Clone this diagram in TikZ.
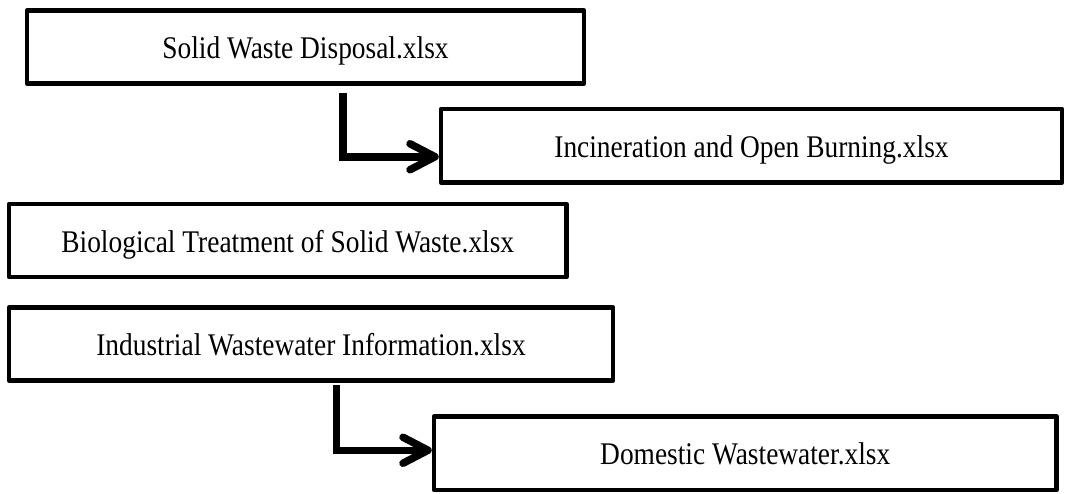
\documentclass[tikz,border=0pt]{standalone}
\usepackage{fontspec}
\setmainfont{Liberation Serif}[FakeStretch=0.87]
\usetikzlibrary{arrows.meta}

\begin{document}
\begin{tikzpicture}[x=1pt,y=-1pt,
  filebox/.style={draw=black, line width=4.5pt, line join=round, fill=white,
    rectangle, anchor=center, inner sep=0pt,
    font=\fontsize{31.5}{36}\selectfont, text height=23pt, text depth=0pt},
  flow/.style={draw=black, line width=7.5pt, line join=miter,
    -{Straight Barb[length=25pt, width=26pt, round]}}
]
\useasboundingbox (0,0) rectangle (1066,493);

% file boxes
\node[filebox, minimum width=557pt, minimum height=73pt]   (b1) at (305.5,47)    {Solid Waste Disposal.xlsx};
\node[filebox, minimum width=621pt, minimum height=73.5pt] (b2) at (751.5,145.75) {Incineration and Open Burning.xlsx};
\node[filebox, minimum width=557.5pt, minimum height=73pt] (b3) at (287.75,240.5) {Biological Treatment of Solid Waste.xlsx};
\node[filebox, minimum width=604pt, minimum height=73pt]   (b4) at (311,344)     {Industrial Wastewater Information.xlsx};
\node[filebox, minimum width=622.5pt, minimum height=73.5pt] (b5) at (745.25,453.25) {Domestic Wastewater.xlsx};

% elbow connectors
\draw[flow] ([xshift=37.5pt,yshift=-7pt]b1.south) |- ([yshift=-11pt]b2.west);
\draw[flow] ([xshift=25.5pt,yshift=-2.5pt]b4.south) |- ([yshift=3pt]b5.west);
\end{tikzpicture}
\end{document}
